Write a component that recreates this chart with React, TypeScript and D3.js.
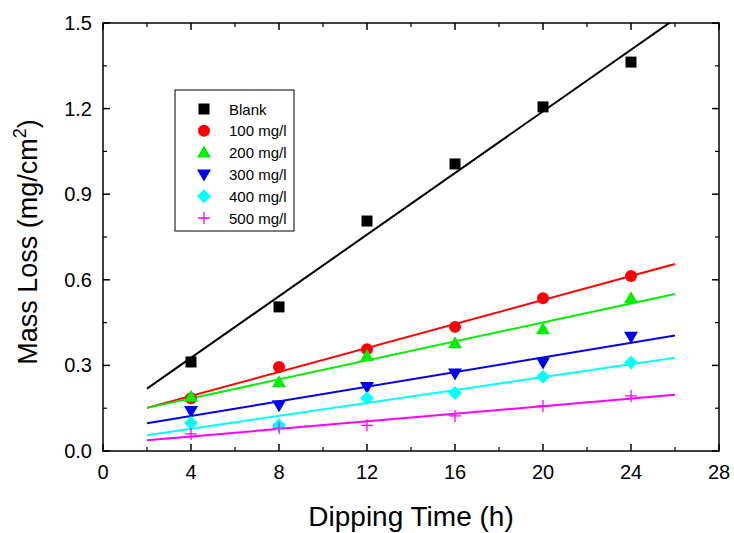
import React from 'react';
import * as d3 from 'd3';

const times = [4, 8, 12, 16, 20, 24];
const seriesNames = ['Blank', '100 mg/l', '200 mg/l', '300 mg/l', '400 mg/l', '500 mg/l'];
const seriesColors = ['#000000', '#ff0000', '#00ee00', '#0000ee', '#00ffff', '#ff00ff'];
const seriesShapes = ['square', 'circle', 'triangle', 'triangleDown', 'diamond', 'cross'];
const blank = [0.312, 0.505, 0.806, 1.006, 1.206, 1.363];
const c100 = [0.185, 0.294, 0.357, 0.435, 0.535, 0.613];
const c200 = [0.19, 0.241, 0.333, 0.378, 0.427, 0.535];
const c300 = [0.14, 0.16, 0.224, 0.272, 0.31, 0.4];
const c400 = [0.098, 0.09, 0.185, 0.203, 0.26, 0.31];
const c500 = [0.06, 0.08, 0.09, 0.123, 0.158, 0.193];
const allSeries = [blank, c100, c200, c300, c400, c500];
const xTicks = [0, 4, 8, 12, 16, 20, 24, 28];
const yTicks = [0, 0.3, 0.6, 0.9, 1.2, 1.5];

const fitRange = [2, 26];

function linfit(xs: number[], ys: number[]) {
  const mx = d3.mean(xs)!;
  const my = d3.mean(ys)!;
  const sxy = d3.sum(xs, (x, i) => (x - mx) * (ys[i] - my));
  const sxx = d3.sum(xs, x => (x - mx) ** 2);
  const b = sxy / sxx;
  return { a: my - b * mx, b };
}

function Marker({ shape, x, y, color }: { shape: string; x: number; y: number; color: string }) {
  if (shape === 'square') return <rect x={x - 5.5} y={y - 5.5} width={11} height={11} fill={color} />;
  if (shape === 'circle') return <circle cx={x} cy={y} r={6} fill={color} />;
  if (shape === 'triangle') return <path d={`M${x},${y - 7}L${x + 7},${y + 5}L${x - 7},${y + 5}Z`} fill={color} />;
  if (shape === 'triangleDown') return <path d={`M${x},${y + 7}L${x + 7},${y - 5}L${x - 7},${y - 5}Z`} fill={color} />;
  if (shape === 'diamond') return <path d={`M${x},${y - 7}L${x + 7},${y}L${x},${y + 7}L${x - 7},${y}Z`} fill={color} />;
  return <path d={`M${x - 6},${y}H${x + 6}M${x},${y - 6}V${y + 6}`} stroke={color} strokeWidth={1.3} />;
}

export default function App() {
  const width = 734;
  const height = 533;
  const margin = { top: 23, right: 15, bottom: 82, left: 103 };
  const x = d3.scaleLinear().domain([0, 28]).range([margin.left, width - margin.right]);
  const y = d3.scaleLinear().domain([0, 1.5]).range([height - margin.bottom, margin.top]);
  const x0 = x.range()[0], x1 = x.range()[1];
  const y0 = y.range()[0], y1 = y.range()[1];
  const minorX = d3.range(2, 28, 4);
  const minorY = d3.range(0.15, 1.5, 0.3);
  const font = 'Liberation Sans, Arial, sans-serif';

  return (
    <svg width={width} height={height} style={{ position: 'absolute', left: 0, top: 0, background: '#fff' }} fontFamily={font}>
      <defs>
        <clipPath id="plot">
          <rect x={x0} y={y1} width={x1 - x0} height={y0 - y1} />
        </clipPath>
      </defs>

      {/* fitted lines */}
      <g clipPath="url(#plot)">
        {allSeries.map((s, i) => {
          const f = linfit(times, s);
          const pts = fitRange.map(t => [t, f.a + f.b * t] as [number, number]);
          const l = d3.line<[number, number]>().x(d => x(d[0])).y(d => y(d[1]));
          return <path key={i} d={l(pts)!} fill="none" stroke={seriesColors[i]} strokeWidth={2} />;
        })}
      </g>

      {/* points */}
      {allSeries.map((s, i) => (
        <g key={i}>
          {s.map((v, j) => (
            <Marker key={j} shape={seriesShapes[i]} x={x(times[j])} y={y(v)} color={seriesColors[i]} />
          ))}
        </g>
      ))}

      {/* frame */}
      <rect x={x0} y={y1} width={x1 - x0} height={y0 - y1} fill="none" stroke="#000" strokeWidth={1.5} />

      {/* x ticks */}
      {xTicks.map(t => (
        <g key={t}>
          <line x1={x(t)} x2={x(t)} y1={y0} y2={y0 - 7} stroke="#000" strokeWidth={1.5} />
          <line x1={x(t)} x2={x(t)} y1={y1} y2={y1 + 7} stroke="#000" strokeWidth={1.5} />
          <text x={x(t)} y={479} textAnchor="middle" fontSize={20}>{t}</text>
        </g>
      ))}
      {minorX.map(t => (
        <g key={t}>
          <line x1={x(t)} x2={x(t)} y1={y0} y2={y0 - 4} stroke="#000" strokeWidth={1.2} />
          <line x1={x(t)} x2={x(t)} y1={y1} y2={y1 + 4} stroke="#000" strokeWidth={1.2} />
        </g>
      ))}

      {/* y ticks */}
      {yTicks.map(t => (
        <g key={t}>
          <line x1={x0} x2={x0 + 7} y1={y(t)} y2={y(t)} stroke="#000" strokeWidth={1.5} />
          <line x1={x1} x2={x1 - 7} y1={y(t)} y2={y(t)} stroke="#000" strokeWidth={1.5} />
          <text x={x0 - 11} y={y(t) + 7} textAnchor="end" fontSize={20}>{d3.format('.1f')(t)}</text>
        </g>
      ))}
      {minorY.map(t => (
        <g key={t}>
          <line x1={x0} x2={x0 + 4} y1={y(t)} y2={y(t)} stroke="#000" strokeWidth={1.2} />
          <line x1={x1} x2={x1 - 4} y1={y(t)} y2={y(t)} stroke="#000" strokeWidth={1.2} />
        </g>
      ))}

      {/* axis titles */}
      <text x={(x0 + x1) / 2} y={526} textAnchor="middle" fontSize={28}>Dipping Time (h)</text>
      <text transform={`translate(37,242) rotate(-90)`} textAnchor="middle" fontSize={27}>
        Mass Loss (mg/cm<tspan dy={-11} fontSize={18}>2</tspan><tspan dy={11}>)</tspan>
      </text>

      {/* legend */}
      <rect x={175} y={90} width={119} height={141} fill="#fff" stroke="#000" strokeWidth={1} />
      {seriesNames.map((n, i) => {
        const ly = 109 + i * 21.8;
        return (
          <g key={n}>
            <Marker shape={seriesShapes[i]} x={204} y={ly} color={seriesColors[i]} />
            <text x={229} y={ly + 5.5} fontSize={15}>{n}</text>
          </g>
        );
      })}
    </svg>
  );
}
